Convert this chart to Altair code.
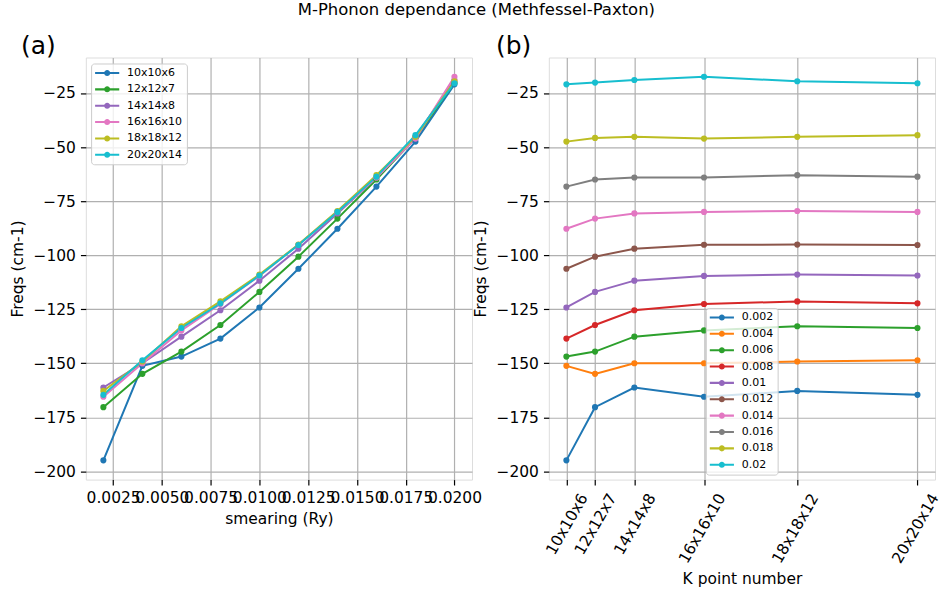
import altair as alt
import pandas as pd

kgrids = ["10x10x6", "12x12x7", "14x14x8", "16x16x10", "18x18x12", "20x20x14"]
kpoints = [600, 1008, 1568, 2560, 3888, 5600]
smearings = [0.002, 0.004, 0.006, 0.008, 0.010, 0.012, 0.014, 0.016, 0.018, 0.020]
smear_labels = ["0.002", "0.004", "0.006", "0.008", "0.01", "0.012", "0.014", "0.016", "0.018", "0.02"]

freq_s002 = [-194.9, -170.3, -161.2, -165.5, -162.8, -164.6]
freq_s004 = [-151.2, -154.9, -150.0, -150.0, -149.2, -148.6]
freq_s006 = [-146.9, -144.6, -137.7, -134.8, -132.9, -133.7]
freq_s008 = [-138.6, -132.3, -125.5, -122.6, -121.4, -122.3]
freq_s010 = [-124.2, -117.0, -111.8, -109.6, -109.0, -109.4]
freq_s012 = [-106.3, -100.7, -97.0, -95.2, -95.1, -95.3]
freq_s014 = [-87.8, -83.1, -80.7, -80.0, -79.6, -80.0]
freq_s016 = [-68.3, -65.0, -64.1, -64.1, -63.0, -63.7]
freq_s018 = [-47.5, -45.8, -45.3, -46.1, -45.3, -44.5]
freq_s020 = [-21.0, -20.2, -19.0, -17.5, -19.6, -20.5]
freqs = [freq_s002, freq_s004, freq_s006, freq_s008, freq_s010,
         freq_s012, freq_s014, freq_s016, freq_s018, freq_s020]

tab10 = ["#1f77b4", "#ff7f0e", "#2ca02c", "#d62728", "#9467bd",
         "#8c564b", "#e377c2", "#7f7f7f", "#bcbd22", "#17becf"]
kgrid_colors = ["#1f77b4", "#2ca02c", "#9467bd", "#e377c2", "#bcbd22", "#17becf"]

rows = []
for si, s in enumerate(smearings):
    for ki, k in enumerate(kgrids):
        rows.append(dict(smearing=s, smear_label=smear_labels[si], kgrid=k,
                         kpoints=kpoints[ki], freq=freqs[si][ki]))
df = pd.DataFrame(rows)

FONT = "DejaVu Sans"
FS = 15.5
W, H = 387, 423
YDOM = [-203.8, -8.6]
yticks = [-200, -175, -150, -125, -100, -75, -50, -25]

SYM = ("M-1,-0.19L3.4,-0.19L3.4,0.19L-1,0.19Z "
       "M1.75,0A0.55,0.55 0 1,1 0.65,0A0.55,0.55 0 1,1 1.75,0Z")

def legend(x, y):
    return alt.Legend(title=None, orient="none", legendX=x, legendY=y,
                      symbolType=SYM, symbolSize=121, symbolOpacity=1,
                      symbolStrokeWidth=0,
                      labelOffset=21, labelFont=FONT, labelFontSize=11,
                      labelColor="black", rowPadding=4.4, padding=4,
                      fillColor="rgba(255,255,255,0.8)", strokeColor="#cccccc",
                      cornerRadius=3)

def yaxis():
    return alt.Axis(values=yticks, format="d", title="Freqs (cm-1)", grid=True,
                    gridColor="#b0b0b0", gridWidth=1.2, tickSize=5.4,
                    tickColor="black", tickWidth=1.2, domain=False,
                    labelFont=FONT, labelFontSize=FS, labelColor="black",
                    labelPadding=5, titleFont=FONT, titleFontSize=FS,
                    titleFontWeight="normal", titleColor="black",
                    titlePadding=7)

xa_ticks = [0.0025, 0.005, 0.0075, 0.01, 0.0125, 0.015, 0.0175, 0.02]
xa = alt.Axis(values=xa_ticks, format=".4f", title="smearing (Ry)", grid=True,
              gridColor="#b0b0b0", gridWidth=1.2, tickSize=5.4,
              tickColor="black", tickWidth=1.2, domain=False,
              labelOverlap=False, labelFlush=False,
              labelFont=FONT, labelFontSize=FS, labelColor="black",
              labelPadding=6, titleFont=FONT, titleFontSize=FS,
              titleFontWeight="normal", titleColor="black", titlePadding=5)

label_expr = " : ".join(
    [f"datum.value == {kp} ? '{kg}'" for kp, kg in zip(kpoints, kgrids)]) + " : ''"
xb = alt.Axis(values=kpoints, labelExpr=label_expr, title="K point number",
              grid=True, gridColor="#b0b0b0", gridWidth=1.2, tickSize=5.4,
              tickColor="black", tickWidth=1.2, domain=False,
              labelOverlap=False, labelFlush=False, labelAngle=300,
              labelAlign="right", labelBaseline="middle", labelOffset=17,
              labelPadding=9.6,
              labelFont=FONT, labelFontSize=FS, labelColor="black",
              titleFont=FONT, titleFontSize=FS,
              titleFontWeight="normal", titleColor="black", titlePadding=6)

PT_SIZE = 38

col_a = alt.Color("kgrid:N", scale=alt.Scale(domain=kgrids, range=kgrid_colors),
                  legend=legend(5.3, 6))
base_a = alt.Chart(df).encode(
    x=alt.X("smearing:Q", scale=alt.Scale(domain=[0.0011, 0.0209], nice=False, zero=False), axis=xa),
    y=alt.Y("freq:Q", scale=alt.Scale(domain=YDOM, nice=False, zero=False), axis=yaxis()),
    color=col_a,
)
lines_a = base_a.mark_line(strokeWidth=2).encode(order="smearing:Q")
pts_a = base_a.mark_point(filled=True, size=PT_SIZE, opacity=1)
panel_a = alt.layer(lines_a, pts_a).properties(
    width=W, height=H,
    title=alt.TitleParams("(a)", anchor="start", fontSize=25, font=FONT,
                          fontWeight="normal", color="black", offset=4, dx=10, dy=5))

col_b = alt.Color("smear_label:N", scale=alt.Scale(domain=smear_labels, range=tab10),
                  legend=legend(157.3, 251))
base_b = alt.Chart(df).encode(
    x=alt.X("kpoints:Q", scale=alt.Scale(domain=[350, 5850], nice=False, zero=False), axis=xb),
    y=alt.Y("freq:Q", scale=alt.Scale(domain=YDOM, nice=False, zero=False), axis=yaxis()),
    color=col_b,
)
lines_b = base_b.mark_line(strokeWidth=2).encode(order="kpoints:Q")
pts_b = base_b.mark_point(filled=True, size=PT_SIZE, opacity=1)
panel_b = alt.layer(lines_b, pts_b).properties(
    width=W, height=H,
    title=alt.TitleParams("(b)", anchor="start", fontSize=25, font=FONT,
                          fontWeight="normal", color="black", offset=4, dx=22, dy=5))

chart = alt.hconcat(panel_a, panel_b, spacing=77, bounds="flush").resolve_scale(
    color="independent").resolve_legend(color="independent").properties(
    title=alt.TitleParams("M-Phonon dependance (Methfessel-Paxton)", anchor="middle",
                          fontSize=16.5, font=FONT, fontWeight="normal", color="black",
                          offset=15),
    padding={"left": 10, "top": 1, "right": 0, "bottom": 0},
).configure_view(stroke="black", strokeWidth=1.2).configure(background="white")

chart.save("out.html", embed_options={"renderer": "svg", "actions": False})
